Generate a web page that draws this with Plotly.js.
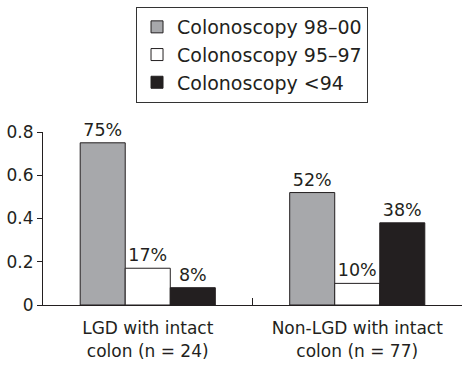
<!DOCTYPE html>
<html><head><meta charset="utf-8">
<script src="https://cdn.plot.ly/plotly-3.0.1.min.js"></script>
<style>body{margin:0;background:#fff}#chart{width:462px;height:367px}</style>
</head><body><div id="chart"></div>
<script>
const categories = ["LGD with intact<br>colon (n = 24)", "Non-LGD with intact<br>colon (n = 77)"];
const seriesNames = ["Colonoscopy 98\u201300", "Colonoscopy 95\u201397", "Colonoscopy <94"];
const values9800 = [0.75, 0.52];
const values9597 = [0.17, 0.10];
const valuesLt94 = [0.08, 0.38];
const labels9800 = ["75%", "52%"];
const labels9597 = ["17%", "10%"];
const labelsLt94 = ["8%", "38%"];
const yTicks = [0, 0.2, 0.4, 0.6, 0.8];
const yTickText = ["0", "0.2", "0.4", "0.6", "0.8"];

const FONT = "DejaVu Sans, sans-serif";
const colors = ["#a7a8ab", "#ffffff", "#231f20"];
const vals = [values9800, values9597, valuesLt94];
const labs = [labels9800, labels9597, labelsLt94];

const traces = seriesNames.map((n, i) => ({
  type: "bar", name: n, legendgroup: "g" + i, x: categories, y: vals[i], text: labs[i],
  textposition: "outside", cliponaxis: false,
  textfont: {family: FONT, size: 17.5, color: "#231f20"},
  marker: {color: colors[i], line: {color: "#231f20", width: 1}}
}));
traces.push({type: "scatter", x: [0.5], y: [0], xaxis: "x2", mode: "markers",
  marker: {opacity: 0}, showlegend: false, hoverinfo: "skip"});

const layout = {
  width: 462, height: 367,
  margin: {l: 43, r: 0, t: 132, b: 62},
  paper_bgcolor: "#fff", plot_bgcolor: "#fff",
  font: {family: FONT, size: 17, color: "#231f20"},
  barmode: "group", bargap: 0.355, bargroupgap: 0,
  showlegend: true,
  legend: {x: 0.222, y: 1.7225, xanchor: "left", yanchor: "top",
    bordercolor: "#333", borderwidth: 1, font: {family: FONT, size: 19, color: "#231f20"},
    traceorder: "grouped", tracegroupgap: 0, itemwidth: 30},
  xaxis: {type: "category", range: [-0.5, 1.5], showline: true, linecolor: "#231f20",
    linewidth: 1, ticks: "", showgrid: false, zeroline: false, ticklabelstandoff: 8,
    tickfont: {family: FONT, size: 17}},
  xaxis2: {overlaying: "x", range: [-0.5, 1.5], tickvals: [0.5], ticks: "inside",
    ticklen: 7, tickcolor: "#231f20", showticklabels: false, showgrid: false,
    zeroline: false, showline: false},
  yaxis: {range: [0, 0.8], tickvals: yTicks, ticktext: yTickText, ticks: "outside",
    ticklen: 5, tickcolor: "#231f20", showline: true, linecolor: "#231f20",
    showgrid: false, zeroline: false, tickfont: {family: FONT, size: 17}}
};
Plotly.newPlot("chart", traces, layout, {displayModeBar: false, staticPlot: true});
</script></body></html>
